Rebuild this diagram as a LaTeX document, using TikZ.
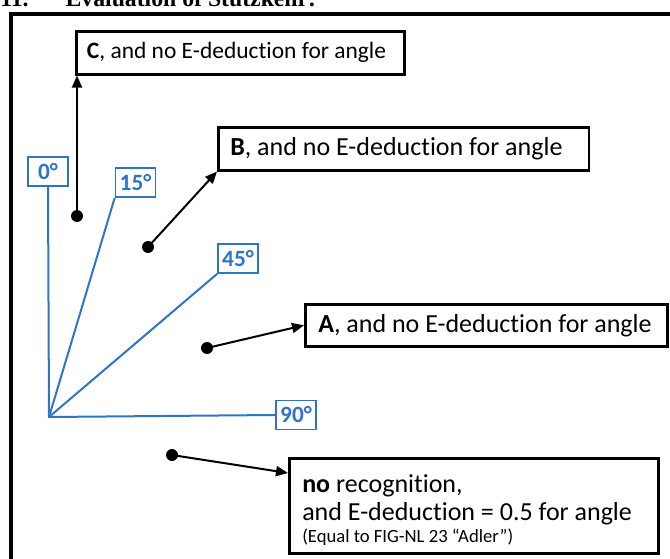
\documentclass[tikz,border=0pt]{standalone}
\usepackage{fontspec}
\setmainfont{Carlito}[Ligatures=NoCommon]
\newfontfamily\titlefont{Liberation Serif}
\usetikzlibrary{arrows.meta}
\definecolor{angblue}{RGB}{46,117,200}

\begin{document}
\begin{tikzpicture}[x=0.75pt,y=-0.75pt,
        tbox/.style={draw,line width=1.9pt,anchor=north west,inner xsep=9.75pt,inner ysep=0pt,align=left,
            font=\fontsize{19.5}{22.5}\selectfont,execute at begin node={\spaceskip=0pt\xspaceskip=0pt\relax}},
        ang/.style={draw=angblue,line width=1.2pt,text=angblue,fill=white,inner sep=0pt,minimum width=30pt,minimum height=21.75pt,font=\fontsize{17.5}{18}\selectfont\bfseries},
        spot/.style={circle,fill,inner sep=0pt,minimum size=9pt},
        ray/.style={angblue,line width=1.5pt},
        pointer/.style={line width=1.5pt,-{Triangle[length=9pt,width=7.5pt]}}]
    \useasboundingbox (0,0) rectangle (670,559);
    \clip (0,0) rectangle (670,559);
    % heading and frame, both cut by the page edge
    \node[anchor=base west,inner sep=0pt,font=\titlefont\bfseries\fontsize{17.8}{20}\selectfont] (title) at (0,7) {11.\hspace{27.75pt}Evaluation of Stützkehr:};
    \draw[line width=3.4pt] (11,14) rectangle (720,620);
    % angle marks
    \coordinate (O) at (49,417);
    \node[ang] (a0) at (48,171.5) {0°};
    \node[ang] (a15) at (135.5,182.5) {15°};
    \node[ang] (a45) at (238,258.5) {45°};
    \node[ang] (a90) at (296,415) {90°};
    \draw[ray] (a0.south) -- (O) -- (a90.west);
    \draw[ray] (O) -- (a15.south west);
    \draw[ray] (O) -- (a45.south west);
    % results
    \node[tbox,text width=230pt,inner xsep=8pt,minimum height=32.25pt,font=\fontsize{17.6}{21}\selectfont] (C) at (75,30) {\textbf{C}, and no E-deduction for angle};
    \node[tbox,text width=260pt,inner xsep=9pt,minimum height=32.25pt] (B) at (217,126) {\textbf{B}, and no E-deduction for angle};
    \node[tbox,text width=252pt,minimum height=31.5pt] (A) at (304,303) {\textbf{A}, and no E-deduction for angle};
    \node[tbox,text width=257.25pt,text height=25.5pt,text depth=45.75pt] (D) at (288,457) {\textbf{no} recognition,\\[-1.5pt]and E-deduction = 0.5 for angle\\[-6pt]\fontsize{14}{16}\selectfont(Equal to FIG-NL 23 “Adler”)};
    \node[spot] (cd) at (77,216) {};
    \node[spot] (bd) at (148,247) {};
    \node[spot] (ad) at (207,348) {};
    \node[spot] (dd) at (172,455) {};
    \draw[pointer] (cd.center) -- (cd |- C.south);
    \draw[pointer] (bd.center) -- (B.south west);
    \draw[pointer] (ad.center) -- (A.west);
    \draw[pointer] (dd.center) -- (D.170);
\end{tikzpicture}
\end{document}
